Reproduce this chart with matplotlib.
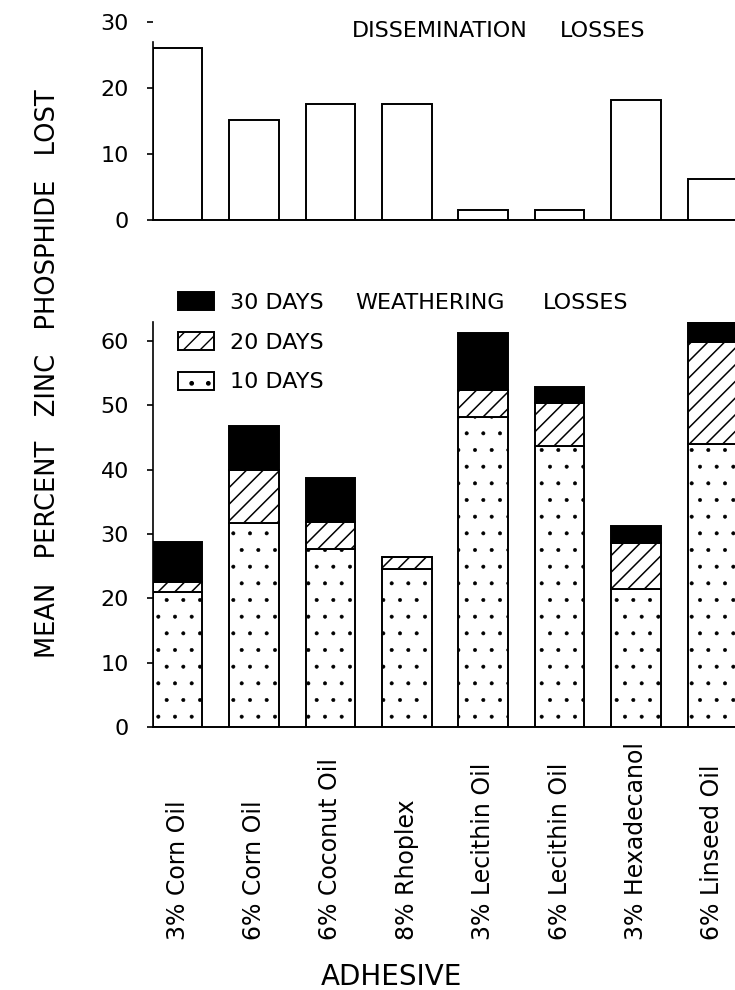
import numpy as np
import matplotlib
matplotlib.use("Agg")
import matplotlib.pyplot as plt
from matplotlib.transforms import blended_transform_factory

# adhesive names (x axis)
adhesives = ["3% Corn Oil", "6% Corn Oil", "6% Coconut Oil", "8% Rhoplex",
             "3% Lecithin Oil", "6% Lecithin Oil", "3% Hexadecanol", "6% Linseed Oil"]

# dissemination losses (top panel)
dissemination = [26.0, 15.2, 17.6, 17.6, 1.5, 1.5, 18.1, 6.2]

# weathering losses (bottom panel), stacked increments
days_10 = [21.0, 31.7, 27.6, 24.6, 48.2, 43.7, 21.4, 44.0]
days_20 = [1.6, 8.2, 4.3, 1.9, 4.2, 6.7, 7.2, 15.8]
days_30 = [6.2, 6.9, 6.8, 0.0, 8.8, 2.4, 2.7, 3.1]

top_ticks = [0, 10, 20, 30]
bottom_ticks = [0, 10, 20, 30, 40, 50, 60]

plt.rcParams["font.family"] = "DejaVu Sans"

fig = plt.figure(figsize=(7.35, 9.9), dpi=100)

W, H = 735.0, 990.0
left = 152.7 / W
ax_top = fig.add_axes([left, 1 - 220 / H, 1 - left, (220 - 21.7) / H])
ax_bot = fig.add_axes([left, 1 - 727 / H, 1 - left, (727 - 321.7) / H])

x = np.arange(len(adhesives))
width = 0.65
xlim = (-0.325, -0.325 + 582.3 / 76.4)

# top panel
ax_top.bar(x, dissemination, width, color="white", edgecolor="black", linewidth=1.4)
ax_top.set_ylim(0, 30)
ax_top.spines["left"].set_bounds(0, 27)

# bottom panel
d10 = np.array(days_10)
d20 = np.array(days_20)
d30 = np.array(days_30)
with plt.rc_context({"hatch.linewidth": 0.4}):
    b10 = ax_bot.bar(x, d10, width, color="white", edgecolor="black",
                     linewidth=1.4, hatch=".")
with plt.rc_context({"hatch.linewidth": 1.1}):
    b20 = ax_bot.bar(x, d20, width, bottom=d10, color="white", edgecolor="black",
                     linewidth=1.4, hatch="//")
b30 = ax_bot.bar(x, d30, width, bottom=d10 + d20, color="black", edgecolor="black",
                 linewidth=1.4)
ax_bot.set_ylim(0, 63)

for ax, ticks in [(ax_top, top_ticks), (ax_bot, bottom_ticks)]:
    ax.set_xlim(xlim)
    ax.set_xticks([])
    ax.set_yticks(ticks)
    ax.set_yticklabels([str(t) for t in ticks])
    ax.tick_params(axis="y", direction="out", length=4, width=1.2, pad=13, labelsize=16)
    for s in ["top", "right"]:
        ax.spines[s].set_visible(False)
    ax.spines["left"].set_linewidth(1.2)
    ax.spines["bottom"].set_linewidth(1.4)

# titles
fig.text(352 / W, 1 - 31 / H, "DISSEMINATION", fontsize=16, va="center", ha="left")
fig.text(560 / W, 1 - 31 / H, "LOSSES", fontsize=16, va="center", ha="left")

leg = fig.legend([b30, b20, b10], ["30 DAYS", "20 DAYS", "10 DAYS"],
                 loc="upper left", bbox_to_anchor=(178 / W, 1 - 292 / H),
                 frameon=False, fontsize=16, borderpad=0, borderaxespad=0,
                 handlelength=1.62, handleheight=0.9, handletextpad=0.72,
                 labelspacing=0.85)
fig.text(355 / W, 1 - 303 / H, "WEATHERING", fontsize=16, va="center", ha="left")
fig.text(543 / W, 1 - 303 / H, "LOSSES", fontsize=16, va="center", ha="left")

# rotated adhesive labels, aligned at their bottom end
trans = blended_transform_factory(ax_bot.transData, fig.transFigure)
for xi, name in zip(x, adhesives):
    ax_bot.text(xi, 1 - 940 / H, name, transform=trans, rotation=90,
                ha="center", va="bottom", fontsize=17)

fig.text(391 / W, 1 - 977 / H, "ADHESIVE", fontsize=20, ha="center", va="center")
fig.text(48 / W, 1 - 374 / H, "MEAN   PERCENT   ZINC   PHOSPHIDE   LOST",
         fontsize=18.5, rotation=90, ha="center", va="center")

fig.savefig("out.png", dpi=100)
